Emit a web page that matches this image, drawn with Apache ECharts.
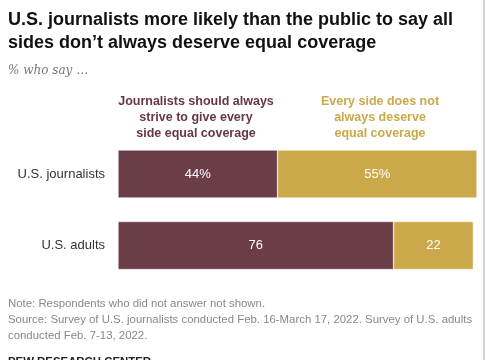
<!DOCTYPE html>
<html><head><meta charset="utf-8">
<script src="https://cdn.jsdelivr.net/npm/echarts@6/dist/echarts.min.js"></script>
<style>html,body{margin:0;padding:0;background:#fff}#c{width:485px;height:360px}</style>
</head><body><div id="c"></div>
<script>
const categories = ["U.S. journalists", "U.S. adults"];
const shouldAlways = [44, 76];
const notAlways = [55, 22];
const seriesNames = ["Journalists should always\nstrive to give every\nside equal coverage", "Every side does not\nalways deserve\nequal coverage"];

const maroon = '#6b3d47';
const gold = '#cba84a';
const chart = echarts.init(document.getElementById('c'));
const fmt = p => p.dataIndex === 0 ? p.value + '%' : String(p.value);
chart.setOption({
  animation: false,
  title: [
    {text: "U.S. journalists more likely than the public to say all\nsides don\u2019t always deserve equal coverage", left: 3, top: 4,
     textStyle: {fontFamily: 'Liberation Sans', fontWeight: 'bold', fontSize: 18, lineHeight: 23, color: '#111'}},
    {text: "% who say \u2026", left: 3, top: 60,
     textStyle: {fontFamily: 'DejaVu Serif', fontStyle: 'italic', fontWeight: 'normal', fontSize: 12, color: '#777'}},
    {text: "Note: Respondents who did not answer not shown.\nSource: Survey of U.S. journalists conducted Feb. 16-March 17, 2022. Survey of U.S. adults\nconducted Feb. 7-13, 2022.", left: 3, top: 291,
     textStyle: {fontFamily: 'Liberation Sans', fontWeight: 'normal', fontSize: 11.4, lineHeight: 16, color: '#888'}},
    {text: "PEW RESEARCH CENTER", left: 3, top: 351, padding: [5, 5, 0, 5],
     textStyle: {fontFamily: 'Liberation Sans', fontWeight: 'bold', fontSize: 11.4, color: '#222'}}
  ],
  graphic: [
    {type: 'text', left: 196 - 80, top: 94, style: {text: seriesNames[0], width: 160, align: 'center', textAlign: 'center', fill: '#653843', font: 'bold 12.5px "Liberation Sans"', lineHeight: 16}},
    {type: 'text', left: 380 - 80, top: 94, style: {text: seriesNames[1], width: 160, align: 'center', textAlign: 'center', fill: gold, font: 'bold 12.5px "Liberation Sans"', lineHeight: 16}},
    {type: 'line', shape: {x1: 484, y1: 0, x2: 484, y2: 360}, style: {stroke: '#aaa', lineWidth: 1}}
  ],
  grid: {left: 118, right: 4.4, top: 138.25, bottom: 78.75, containLabel: false},
  xAxis: {type: 'value', min: 0, max: 100, show: false},
  yAxis: {type: 'category', data: categories, inverse: true,
    axisLine: {show: false}, axisTick: {show: false},
    axisLabel: {margin: 13, fontFamily: 'Liberation Sans', fontSize: 13, color: '#333'}},
  series: [
    {name: 'should', type: 'bar', stack: 's', data: shouldAlways, barWidth: 48,
     itemStyle: {color: maroon, borderColor: '#fff', borderWidth: 0.5},
     label: {show: true, position: 'inside', color: '#fff', fontFamily: 'Liberation Sans', fontSize: 13, formatter: fmt}},
    {name: 'not', type: 'bar', stack: 's', data: notAlways, barWidth: 48,
     itemStyle: {color: gold, borderColor: '#fff', borderWidth: 0.5},
     label: {show: true, position: 'inside', color: '#fff', fontFamily: 'Liberation Sans', fontSize: 13, formatter: fmt}}
  ]
});
</script></body></html>
